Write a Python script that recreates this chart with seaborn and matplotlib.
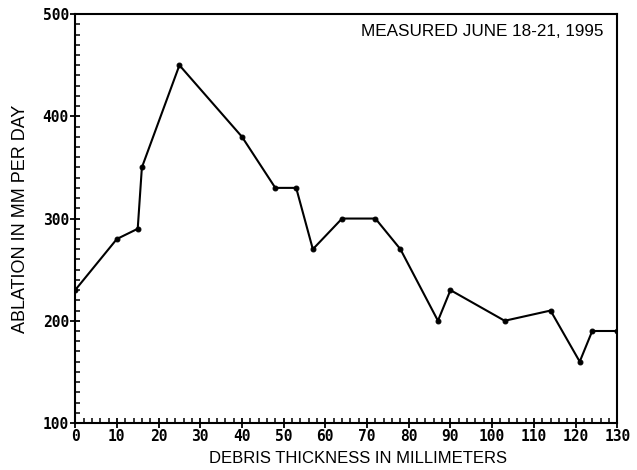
import matplotlib
matplotlib.use("Agg")
import matplotlib.pyplot as plt
import seaborn as sns
import pandas as pd
from matplotlib.ticker import MultipleLocator

# debris thickness (mm) vs ablation (mm/day)
espessura = [0, 10, 15, 16, 25, 40, 48, 53, 57, 64, 72, 78, 87, 90, 103, 114, 121, 124, 130]
ablacao = [230, 280, 290, 350, 450, 380, 330, 330, 270, 300, 300, 270, 200, 230, 200, 210, 160, 190, 190]

df = pd.DataFrame({"espessura": espessura, "ablacao": ablacao})

sns.set_style("white")
plt.rcParams["font.family"] = ["Liberation Sans", "DejaVu Sans"]
plt.rcParams["text.color"] = "black"
plt.rcParams["axes.labelcolor"] = "black"

fig = plt.figure(figsize=(6.37, 4.70), dpi=100)
ax = fig.add_axes([0.118, 0.100, 0.851, 0.870])

sns.lineplot(data=df, x="espessura", y="ablacao", ax=ax, color="black",
             linewidth=1.5, marker="o", markersize=3.5, markeredgecolor="black")

ax.set_xlim(0, 130)
ax.set_ylim(100, 500)
ax.xaxis.set_major_locator(MultipleLocator(10))
ax.xaxis.set_minor_locator(MultipleLocator(2))
ax.yaxis.set_major_locator(MultipleLocator(100))
ax.yaxis.set_minor_locator(MultipleLocator(10))

ax.tick_params(which="both", bottom=True, left=True, top=False, right=False)
ax.tick_params(which="major", direction="inout", length=7, width=1.3,
               colors="black", labelsize=10.5, pad=1)
ax.tick_params(which="minor", direction="in", length=3.5, width=1.1, colors="black")
for lab in ax.get_xticklabels() + ax.get_yticklabels():
    lab.set_fontweight("bold")
    lab.set_family("DejaVu Sans Mono")

for s in ax.spines.values():
    s.set_color("black")
    s.set_linewidth(1.5)

ax.set_xlabel("DEBRIS THICKNESS IN MILLIMETERS", fontsize=12, labelpad=2)
ax.xaxis.set_label_coords(0.522, -0.068)
ax.set_ylabel("ABLATION IN MM PER DAY", fontsize=13, labelpad=10)
ax.text(0.975, 0.975, "MEASURED JUNE 18-21, 1995", transform=ax.transAxes,
        ha="right", va="top", fontsize=12.3)

fig.savefig("out.png", dpi=100)
